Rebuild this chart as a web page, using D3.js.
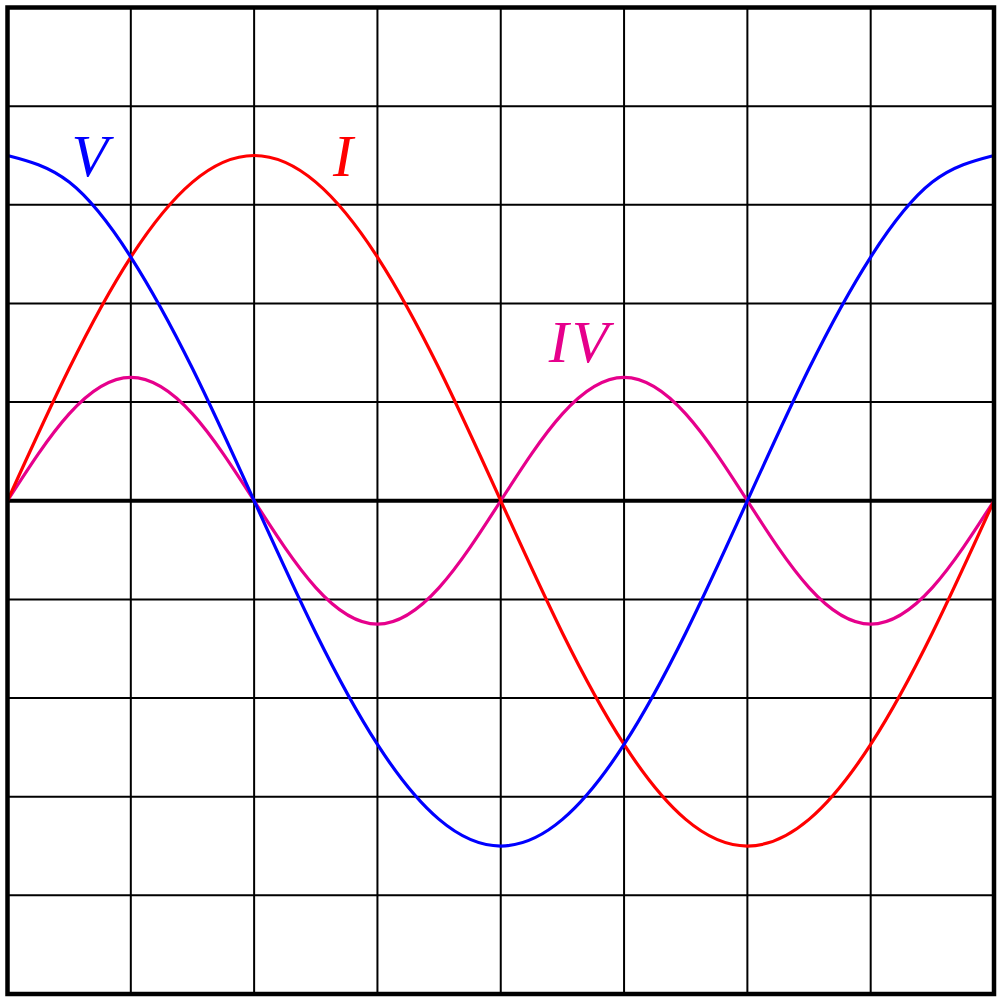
<!DOCTYPE html>
<html>
<head>
<meta charset="utf-8">
<script src="https://cdn.jsdelivr.net/npm/d3@7"></script>
<style>
    html, body { margin: 0; padding: 0; background: #fff; }
    svg { display: block; }
    .label { font-family: "Liberation Serif", "DejaVu Serif", serif; font-style: italic; font-size: 60px; }
</style>
</head>
<body>
<svg id="chart" width="1001" height="1003"></svg>
<script>
    //phase steps of pi/8 (two steps per grid column)
    var phase = d3.range(0, 17);
    //values (grid units)
    var voltage = [3.5, 3.23, 2.47, 1.34, 0, -1.34, -2.47, -3.23, -3.5, -3.23, -2.47, -1.34, 0, 1.34, 2.47, 3.23, 3.5];
    var current = [0, 1.34, 2.47, 3.23, 3.5, 3.23, 2.47, 1.34, 0, -1.34, -2.47, -3.23, -3.5, -3.23, -2.47, -1.34, 0];
    var power = [0, 0.88, 1.25, 0.88, 0, -0.88, -1.25, -0.88, 0, 0.88, 1.25, 0.88, 0, -0.88, -1.25, -0.88, 0];

    //labels: text, x (grid columns), y (grid units), colour, letter spacing
    var labels = [
        ["V", 0.52, 3.29, "#0000ff", 0],
        ["I", 2.64, 3.29, "#ff0000", 0],
        ["IV", 4.39, 1.41, "#e6008c", 3]
    ];

    var svg = d3.select("#chart");
    var plotLeft = 7.5, plotRight = 994, plotTop = 7.5, plotBottom = 994;

    var x = d3.scaleLinear().domain([0, 16]).range([plotLeft, plotRight]);
    var y = d3.scaleLinear().domain([-5, 5]).range([plotBottom, plotTop]);

    //grid
    var grid = svg.append("g");
    grid.selectAll(".vline")
        .data(d3.range(2, 16, 2))
        .enter().append("line")
        .attr("x1", function (d) { return x(d); })
        .attr("x2", function (d) { return x(d); })
        .attr("y1", plotTop).attr("y2", plotBottom)
        .style("stroke", "#000").style("stroke-width", 2);
    grid.selectAll(".hline")
        .data(y.ticks(10))
        .enter().append("line")
        .attr("x1", plotLeft).attr("x2", plotRight)
        .attr("y1", function (d) { return y(d); })
        .attr("y2", function (d) { return y(d); })
        .style("stroke", "#000")
        .style("stroke-width", function (d) { return d == 0 ? 4 : 2; });

    //curves
    function drawCurve(values, colour) {
        var line = d3.line()
            .x(function (d, i) { return x(phase[i]); })
            .y(function (d) { return y(d); })
            .curve(d3.curveNatural);
        svg.append("path")
            .datum(values)
            .attr("d", line)
            .style("fill", "none")
            .style("stroke", colour)
            .style("stroke-width", 3.2);
    }
    drawCurve(power, "#e6008c");
    drawCurve(current, "#ff0000");
    drawCurve(voltage, "#0000ff");

    //border
    svg.append("rect")
        .attr("x", plotLeft).attr("y", plotTop)
        .attr("width", plotRight - plotLeft).attr("height", plotBottom - plotTop)
        .style("fill", "none").style("stroke", "#000").style("stroke-width", 4.5);

    //labels
    svg.selectAll(".label")
        .data(labels)
        .enter().append("text")
        .attr("class", "label")
        .attr("x", function (d) { return x(d[1] * 2); })
        .attr("y", function (d) { return y(d[2]); })
        .style("letter-spacing", function (d) { return d[4] + "px"; })
        .style("fill", function (d) { return d[3]; })
        .text(function (d) { return d[0]; });
</script>
</body>
</html>
